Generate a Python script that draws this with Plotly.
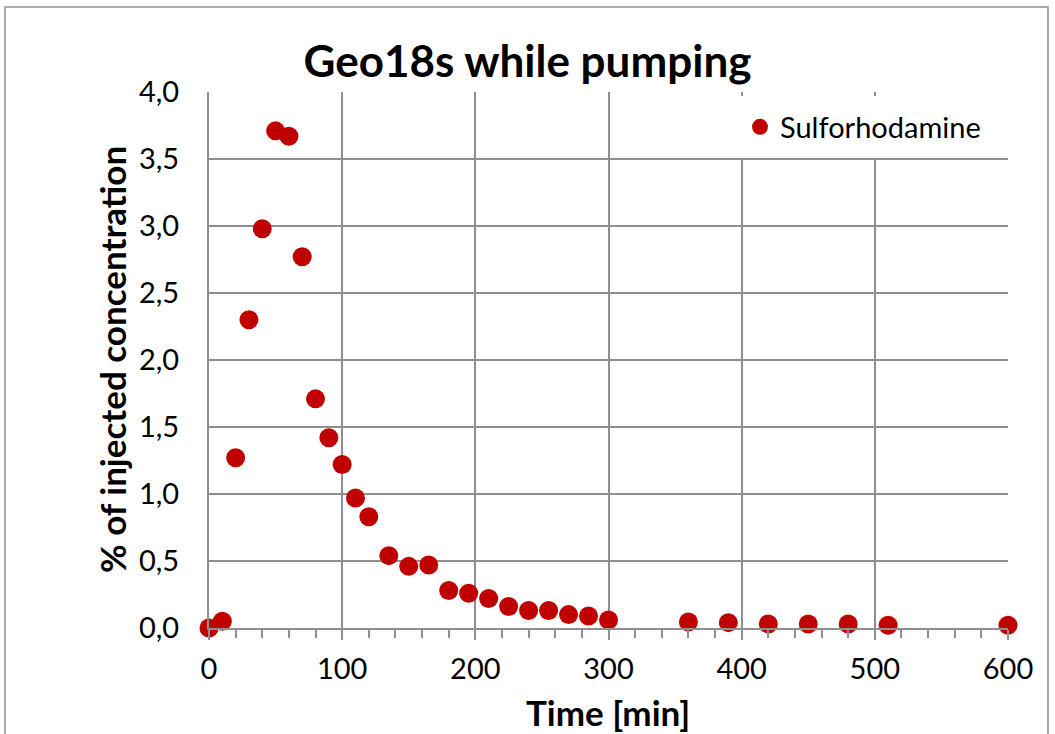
import plotly.graph_objects as go

time_min = [0, 10, 20, 30, 40, 50, 60, 70, 80, 90, 100, 110, 120, 135, 150, 165, 180, 195,
            210, 225, 240, 255, 270, 285, 300, 360, 390, 420, 450, 480, 510, 600]
conc_pct = [0.0, 0.05, 1.27, 2.30, 2.98, 3.71, 3.67, 2.77, 1.71, 1.42, 1.22, 0.97, 0.83, 0.54,
            0.46, 0.47, 0.28, 0.26, 0.22, 0.16, 0.13, 0.13, 0.10, 0.09, 0.06, 0.045, 0.04,
            0.03, 0.03, 0.03, 0.02, 0.02]
series_name = "Sulforhodamine"
x_ticks = [0, 100, 200, 300, 400, 500, 600]
y_ticks = [0.0, 0.5, 1.0, 1.5, 2.0, 2.5, 3.0, 3.5, 4.0]

FONT = "Lato, Open Sans, sans-serif"
GRID = "#8f8f8f"

fig = go.Figure()
fig.add_trace(go.Scatter(
    x=time_min, y=conc_pct, mode="markers", name=series_name,
    marker=dict(color="#c00000", size=19, line=dict(width=0)),
    cliponaxis=False,
))

W, H = 1055, 734
L, R, T, B = 209, 47, 92, 106
pw, ph = W - L - R, H - T - B

def px_x(p):
    return (p - L) / pw

def px_y(p):
    return (H - B - p) / ph

fig.update_layout(
    width=W, height=H,
    margin=dict(l=L, r=R, t=T, b=B, autoexpand=False),
    paper_bgcolor="white", plot_bgcolor="white",
    separators=", ",
    font=dict(family=FONT, color="black"),
    title=dict(text="<b>Geo18s while pumping</b>", x=0.5, xanchor="center",
               y=1 - 62 / H, yanchor="middle", font=dict(size=44, family=FONT)),
    showlegend=True,
    legend=dict(x=px_x(740), xanchor="left", y=px_y(127), yanchor="middle", bgcolor="rgba(0,0,0,0)",
                font=dict(size=29, family=FONT), itemsizing="trace",
                borderwidth=0, itemwidth=30),
    xaxis=dict(
        range=[0, 600], tickvals=x_ticks, showgrid=True, gridcolor=GRID, gridwidth=2,
        showline=True, linecolor=GRID, linewidth=2, mirror=False, automargin=False,
        ticks="outside", ticklen=10, tickwidth=2, tickcolor=GRID,
        tickfont=dict(size=29, family=FONT), ticklabelstandoff=4,
        minor=dict(dtick=20, ticks="outside", ticklen=8, tickwidth=2, tickcolor=GRID, showgrid=False),
        zeroline=False,
    ),
    yaxis=dict(
        range=[0, 4], tickvals=y_ticks, tickformat=".1f", showgrid=True, gridcolor=GRID,
        gridwidth=2, showline=True, linecolor=GRID, linewidth=2, automargin=False,
        ticks="", tickfont=dict(size=29, family=FONT), ticklabelstandoff=22,
        zeroline=False,
    ),
    annotations=[
        dict(text="<b>Time [min]</b>", xref="paper", yref="paper", x=px_x(608), y=px_y(712),
             xanchor="center", yanchor="middle", showarrow=False, font=dict(size=35, family=FONT)),
        dict(text="<b>% of injected concentration</b>", xref="paper", yref="paper",
             x=px_x(112), y=px_y(360), xanchor="center", yanchor="middle", textangle=-90,
             showarrow=False, font=dict(size=35, family=FONT)),
    ],
)

# white legend box covering the grid
fig.add_shape(type="rect", xref="paper", yref="paper",
              x0=px_x(718), x1=px_x(1007), y0=px_y(158), y1=px_y(96),
              line=dict(width=0), fillcolor="white", layer="above")
# outer chart border
fig.add_shape(type="rect", xref="paper", yref="paper",
              x0=px_x(5), x1=px_x(1048), y0=px_y(760), y1=px_y(7),
              line=dict(color="#8f8f8f", width=1.5), fillcolor="rgba(0,0,0,0)", layer="below")

fig.write_html("out.html", config={"displayModeBar": False},
               post_script="document.body.style.margin='0px';document.body.style.padding='0px';")
